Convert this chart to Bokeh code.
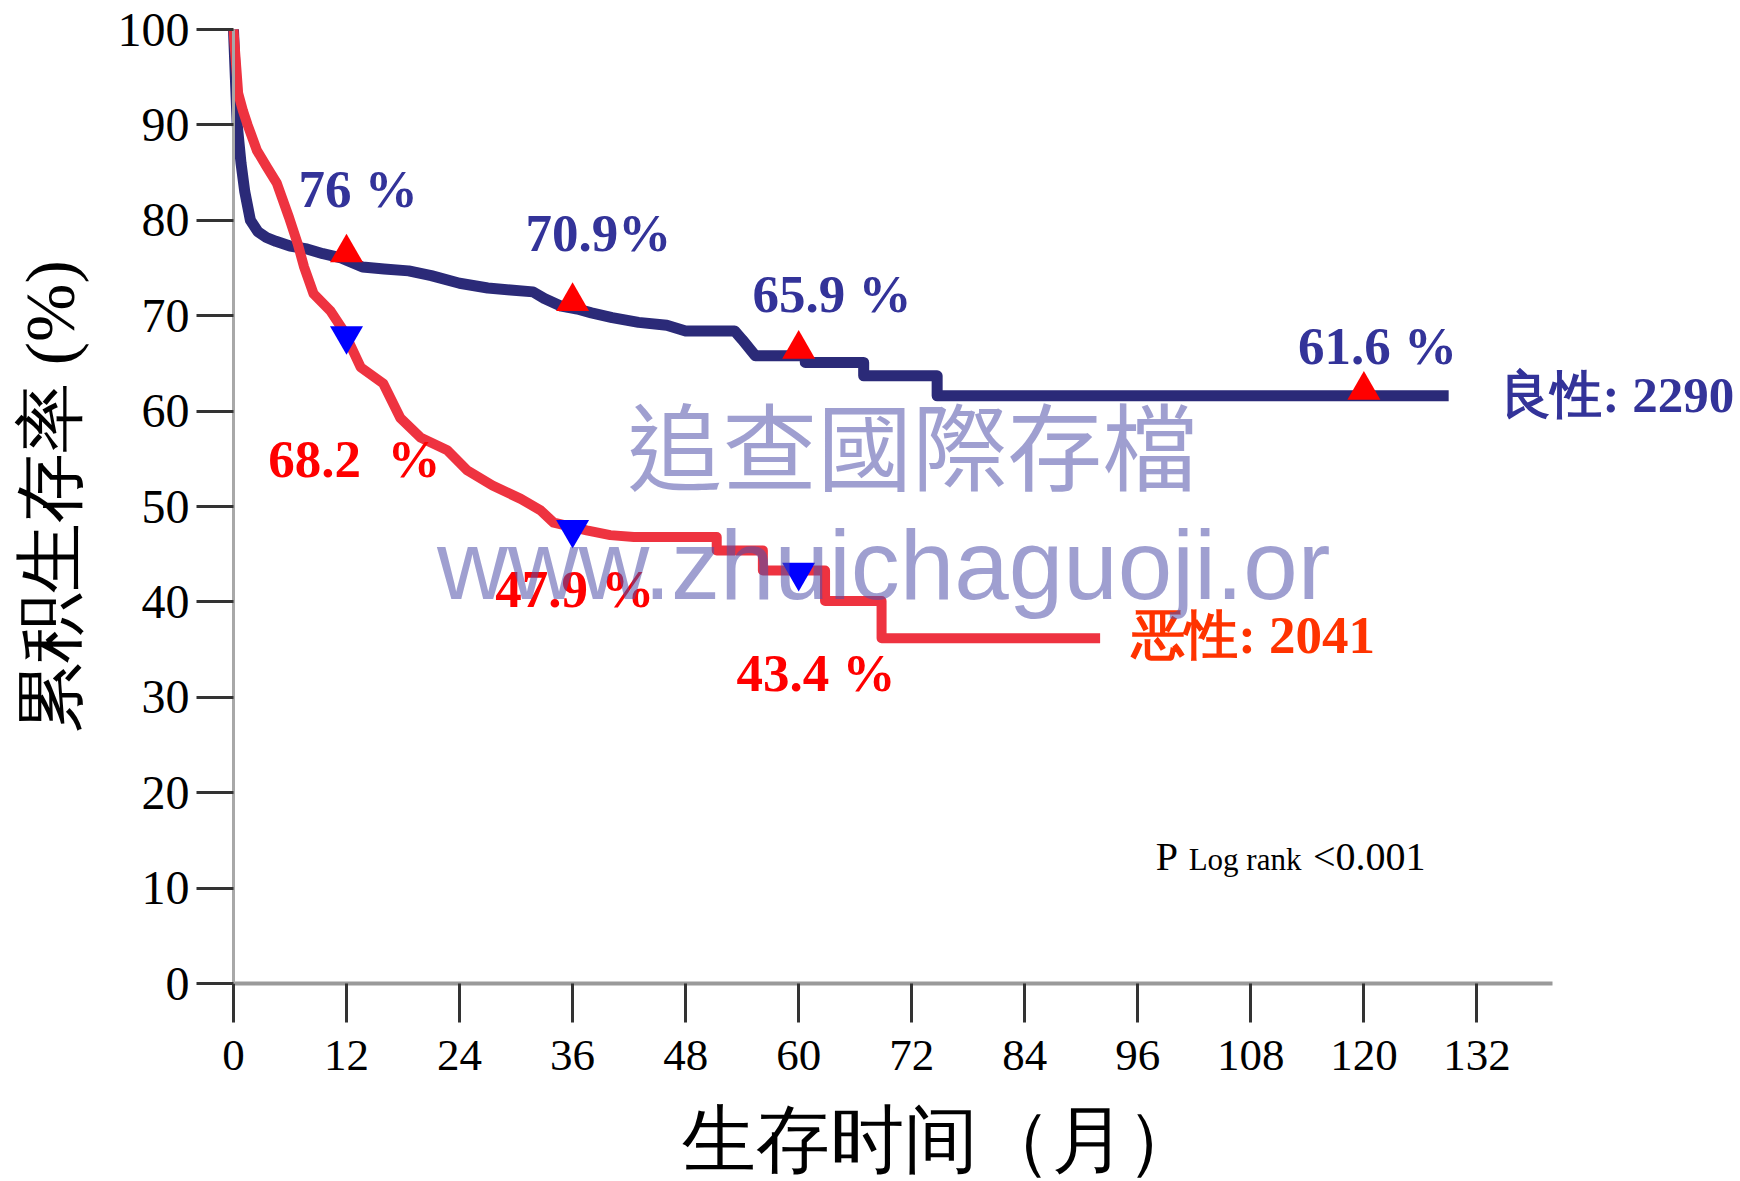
import math
from bokeh.plotting import figure
from bokeh.models import Range1d, FixedTicker
from bokeh.core.properties import value
from bokeh.embed import file_html
from bokeh.resources import INLINE

# ---------------- data ----------------
benign_t = [0, 0.2, 0.4, 0.8, 1.2, 1.8, 2.6, 3.5, 4.5, 6, 7.8, 9.5, 11.3, 12.5, 13.7, 16, 18.6,
            21, 24, 27, 29.4, 31.8, 33, 34.8, 36.5, 38, 40.2, 43, 46, 48, 53.2, 54, 55.4,
            60.7, 60.7, 66.9, 66.9, 74.7, 74.7, 129]
benign_s = [100, 95, 90, 86, 83, 80, 78.8, 78.2, 77.8, 77.3, 77.0, 76.5, 76.1, 75.6, 75.1, 74.9, 74.7,
            74.2, 73.4, 72.9, 72.7, 72.5, 71.8, 71.0, 70.7, 70.3, 69.8, 69.3, 69.0, 68.4, 68.4, 67.5, 65.8,
            65.8, 65.1, 65.1, 63.7, 63.7, 61.6, 61.6]

malig_t = [0, 0.3, 0.5, 1.0, 1.5, 2.5, 3.6, 4.6, 5.9, 6.8, 7.5, 8.5, 10.3, 11.7, 13.5, 15.9, 17.7,
           19.9, 22.7, 24.8, 27.5, 30.5, 32.6, 34, 37.5, 40, 42.5, 51.3, 51.3, 56.2, 56.2, 62.8,
           62.8, 68.8, 68.8, 92]
malig_s = [100, 96, 93.3, 91.5, 90, 87.3, 85.5, 83.9, 80.3, 77.6, 75.1, 72.3, 70.5, 68.4, 64.6, 62.9, 59.3,
           57.2, 55.9, 53.8, 52.2, 50.8, 49.6, 48.3, 47.5, 47.0, 46.8, 46.8, 45.4, 45.4, 43.3, 43.3,
           40.1, 40.1, 36.2, 36.2]

mark_months_benign = [12, 36, 60, 120]
benign_pct = [76.0, 70.9, 65.9, 61.6]
benign_labels = ["76 %", "70.9%", "65.9 %", "61.6 %"]

mark_months_malig = [12, 36, 60]
malig_pct = [68.2, 47.9, 43.4]
malig_labels = ["68.2\u00a0 %", "47.9 %", "43.4 %"]

x_ticks = [0, 12, 24, 36, 48, 60, 72, 84, 96, 108, 120, 132]
y_ticks = [0, 10, 20, 30, 40, 50, 60, 70, 80, 90, 100]

benign_name, benign_n = "良性", 2290
malig_name, malig_n = "恶性", 2041
p_value = "<0.001"

x_title = "生存时间（月）"
y_title = "累积生存率 (%)"
watermark_cn = "追查國際存檔"
watermark_url = "www.zhuichaguoji.or"

# ---------------- colours ----------------
NAVY_LINE = "#2b2a78"
RED_LINE = "#ee3340"
NAVY_TEXT = "#333399"
RED_TEXT = "#ff0000"
ORANGE_TEXT = "#ff3300"

SERIF = value("Liberation Serif")

p = figure(width=1740, height=1181,
           x_range=Range1d(-24.73, 159.98), y_range=Range1d(-20.75, 103.04),
           min_border=0, min_border_left=0, min_border_right=0,
           min_border_top=0, min_border_bottom=0,
           output_backend="svg", toolbar_location=None)
p.outline_line_color = None
p.xgrid.grid_line_color = None
p.ygrid.grid_line_color = None
p.background_fill_color = "white"
p.border_fill_color = "white"

# axes (pinned at the data origin, they take no side space)
xa = p.xaxis[0]
xa.fixed_location = 0
xa.ticker = FixedTicker(ticks=x_ticks)
xa.bounds = (0, 140)
xa.axis_line_color = "#9a9a9a"
xa.axis_line_width = 4
xa.major_tick_line_color = "#333333"
xa.major_tick_line_width = 3
xa.major_tick_out = 39
xa.major_tick_in = 0
xa.minor_tick_line_color = None
xa.major_label_standoff = 18
xa.major_label_text_font = "Liberation Serif"
xa.major_label_text_font_size = "45px"
xa.major_label_text_color = "black"

ya = p.yaxis[0]
ya.fixed_location = 0
ya.ticker = FixedTicker(ticks=y_ticks)
ya.bounds = (0, 100)
ya.axis_line_color = "#a8a8a8"
ya.axis_line_width = 3
ya.major_tick_line_color = "#333333"
ya.major_tick_line_width = 3
ya.major_tick_out = 37
ya.major_tick_in = 0
ya.minor_tick_line_color = None
ya.major_label_standoff = 7
ya.major_label_text_font = "Liberation Serif"
ya.major_label_text_font_size = "48px"
ya.major_label_text_color = "black"

# curves
p.line(benign_t, benign_s, line_color=NAVY_LINE, line_width=11, line_join="round")
p.line(malig_t, malig_s, line_color=RED_LINE, line_width=10, line_join="round")

# markers
p.scatter(mark_months_benign, [v + 0.6 for v in benign_pct], marker="triangle",
          size=33, fill_color="#ff0000", line_color=None)
p.scatter(mark_months_malig, [v - 0.3 for v in malig_pct], marker="inverted_triangle",
          size=33, fill_color="#0000ff", line_color=None)

# percentage labels (anchor = vertical middle of the text line)
benign_label_x = [6.9, 31.0, 55.1, 113.0]
benign_label_y = [83.24, 78.63, 72.23, 66.78]
malig_label_x = [3.7, 27.8, 53.4]
malig_label_y = [54.94, 41.31, 32.50]
p.text(benign_label_x, benign_label_y, text=benign_labels, text_color=NAVY_TEXT,
       text_font=SERIF, text_font_style="bold", text_font_size="53px",
       text_align="left", text_baseline="middle")
p.text(malig_label_x, malig_label_y, text=malig_labels, text_color=RED_TEXT,
       text_font=SERIF, text_font_style="bold", text_font_size="53px",
       text_align="left", text_baseline="middle")

# group labels
p.text([134.5], [61.66], text=[f"{benign_name}: {benign_n}"], text_color=NAVY_TEXT,
       text_font=SERIF, text_font_style="bold", text_font_size="51px",
       text_align="left", text_baseline="middle")
p.text([95.4], [36.49], text=[f"{malig_name}: {malig_n}"], text_color=ORANGE_TEXT,
       text_font=SERIF, text_font_style="bold", text_font_size="53px",
       text_align="left", text_baseline="middle")

# p value
p.text([97.9], [13.35], text=["P"], text_color="black", text_font=SERIF,
       text_font_size="40px", text_align="left", text_baseline="middle")
p.text([101.4], [13.02], text=["Log rank"], text_color="black", text_font=SERIF,
       text_font_size="31px", text_align="left", text_baseline="middle")
p.text([114.6], [13.35], text=[p_value], text_color="black", text_font=SERIF,
       text_font_size="40px", text_align="left", text_baseline="middle")

# axis titles
p.text([75.1], [-16.35], text=[x_title], text_color="black",
       text_font=SERIF, text_font_size="74px",
       text_align="center", text_baseline="middle")
p.text([-19.43], [51.05], text=[y_title], text_color="black", angle=math.pi / 2,
       text_font=SERIF, text_font_size="70px",
       text_align="center", text_baseline="middle")

# watermark (semi-transparent, on top)
p.text([41.8], [56.76], text=[watermark_cn], text_color="#5050aa", text_alpha=0.55,
       text_font=value("Noto Sans CJK TC"), text_font_size="95px",
       text_align="left", text_baseline="middle")
p.text([21.6], [43.82], text=[watermark_url], text_color="#5050aa", text_alpha=0.55,
       text_font=value("Liberation Sans"), text_font_size="98px",
       text_align="left", text_baseline="middle")

open("out.html", "w").write(file_html(p, INLINE))
